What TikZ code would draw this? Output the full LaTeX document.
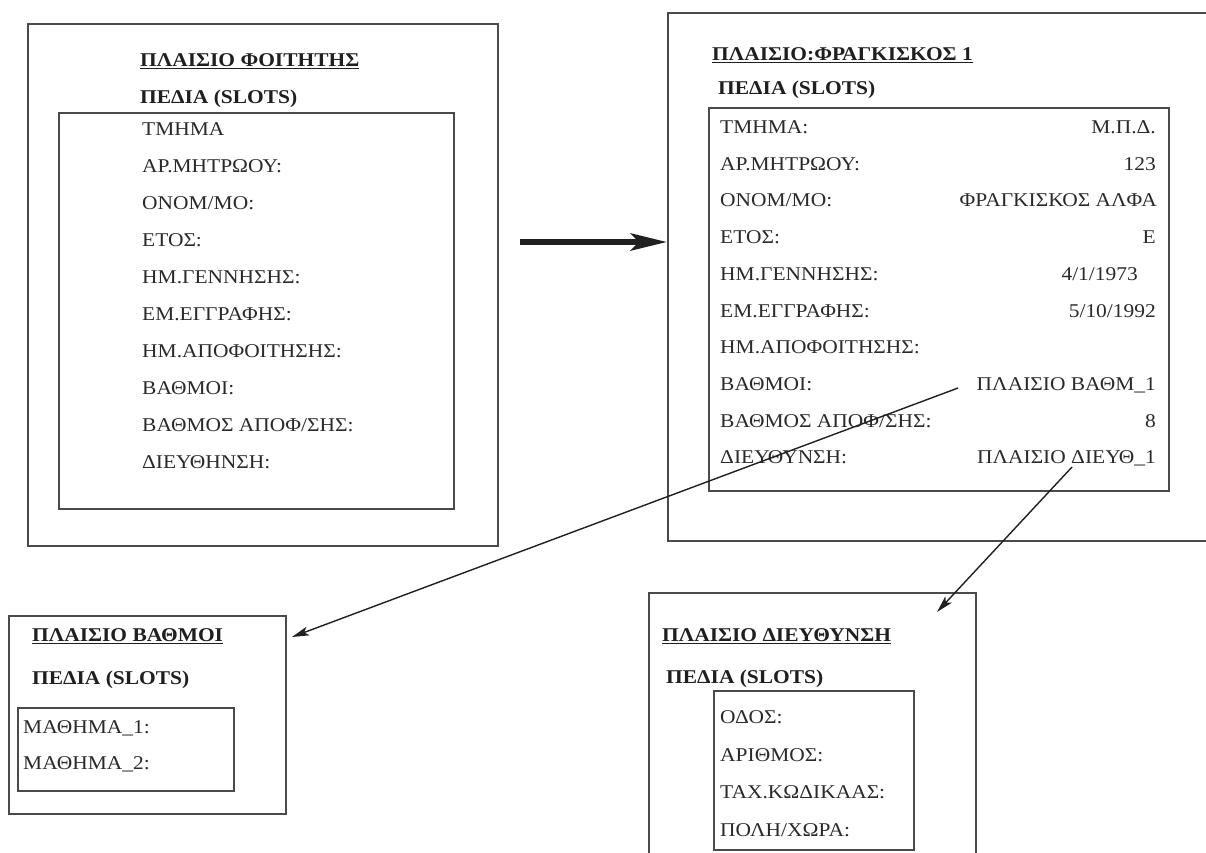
\documentclass[tikz,border=0pt]{standalone}
\usepackage{fontspec}
\setmainfont{Liberation Serif}[FakeStretch=1.1]
\usetikzlibrary{arrows.meta}
\definecolor{ink}{HTML}{2A2A2A}
\definecolor{rulegray}{HTML}{4A4A4A}
\definecolor{arrowink}{HTML}{202020}
\begin{document}
\begin{tikzpicture}[x=1pt,y=-1pt,
  frame/.style={draw=rulegray, line width=2.2pt, inner sep=0pt, anchor=north west},
  field/.style={anchor=base west, inner sep=0pt, text=ink, font=\fontsize{19.5}{22}\selectfont},
  value/.style={anchor=base east, inner sep=0pt, text=ink, font=\fontsize{19.5}{22}\selectfont},
  frametitle/.style={anchor=base west, inner sep=0pt, text=black!88, font=\fontsize{19.5}{22}\selectfont\bfseries},
  link/.style={draw=arrowink, line width=1.4pt, -{Stealth[length=17pt,width=9pt,inset=4pt]}},
  bigarrow/.style={draw=arrowink, line width=6pt, -{Stealth[length=36pt,width=17pt,inset=8pt]}}]

\fill[white] (0,0) rectangle (1206,852);
\useasboundingbox (0,0) rectangle (1206,852);

% ---------- generic student frame ----------
\node[frame, minimum width=470pt, minimum height=522pt] (studentframe) at (27,23) {};
\node[frame, minimum width=395pt, minimum height=396pt] (studentslots) at (58,112) {};
\node[frametitle] (studenttitle) at (140,66.5) {\underline{ΠΛΑΙΣΙΟ ΦΟΙΤΗΤΗΣ}};
\node[frametitle] (studentslotlabel) at (140,103.5) {ΠΕΔΙΑ (SLOTS)};
\foreach \txt [count=\i from 0] in {ΤΜΗΜΑ, ΑΡ.ΜΗΤΡΩΟΥ:, ΟΝΟΜ/ΜΟ:, ΕΤΟΣ:, ΗΜ.ΓΕΝΝΗΣΗΣ:, ΕΜ.ΕΓΓΡΑΦΗΣ:, ΗΜ.ΑΠΟΦΟΙΤΗΣΗΣ:, ΒΑΘΜΟΙ:, ΒΑΘΜΟΣ ΑΠΟΦ/ΣΗΣ:, ΔΙΕΥΘΗΝΣΗ:}
  \node[field] (sf\i) at (142,135.5+37*\i) {\txt};

% ---------- instance frame ----------
\node[frame, minimum width=540pt, minimum height=528pt] (instframe) at (667,12) {};
\node[frame, minimum width=460pt, minimum height=383pt] (instslots) at (708,107) {};
\node[frametitle] (insttitle) at (712,60.5) {\underline{ΠΛΑΙΣΙΟ:ΦΡΑΓΚΙΣΚΟΣ 1}};
\node[frametitle] (instslotlabel) at (718,94.5) {ΠΕΔΙΑ (SLOTS)};
\foreach \txt [count=\i from 0] in {ΤΜΗΜΑ:, ΑΡ.ΜΗΤΡΩΟΥ:, ΟΝΟΜ/ΜΟ:, ΕΤΟΣ:, ΗΜ.ΓΕΝΝΗΣΗΣ:, ΕΜ.ΕΓΓΡΑΦΗΣ:, ΗΜ.ΑΠΟΦΟΙΤΗΣΗΣ:, ΒΑΘΜΟΙ:, ΒΑΘΜΟΣ ΑΠΟΦ/ΣΗΣ:, ΔΙΕΥΘΥΝΣΗ:}
  \node[field] (if\i) at (720,133.5+36.7*\i) {\txt};
\node[value] (iv0) at (1156,133.5) {Μ.Π.Δ.};
\node[value] (iv1) at (1156,170.2) {123};
\node[value] (iv2) at (1157,206.9) {ΦΡΑΓΚΙΣΚΟΣ ΑΛΦΑ};
\node[value] (iv3) at (1156,243.6) {Ε};
\node[value] (iv4) at (1138,280.3) {4/1/1973};
\node[value] (iv5) at (1156,317.0) {5/10/1992};
\node[value] (iv7) at (1156,390.4) {ΠΛΑΙΣΙΟ ΒΑΘΜ\_1};
\node[value] (iv8) at (1156,427.1) {8};
\node[value] (iv9) at (1156,463.8) {ΠΛΑΙΣΙΟ ΔΙΕΥΘ\_1};

% ---------- grades frame ----------
\node[frame, minimum width=277pt, minimum height=198pt] (gradeframe) at (8,615) {};
\node[frame, minimum width=216pt, minimum height=83pt] (gradeslots) at (17,707) {};
\node[frametitle] (gradetitle) at (32,641.5) {\underline{ΠΛΑΙΣΙΟ ΒΑΘΜΟΙ}};
\node[frametitle] (gradeslotlabel) at (32,684.5) {ΠΕΔΙΑ (SLOTS)};
\node[field] (gf0) at (23,733.5) {ΜΑΘΗΜΑ\_1:};
\node[field] (gf1) at (23,769.5) {ΜΑΘΗΜΑ\_2:};

% ---------- address frame ----------
\node[frame, minimum width=327pt, minimum height=270pt] (addrframe) at (648,592) {};
\node[frame, minimum width=200pt, minimum height=159pt] (addrslots) at (713,690) {};
\node[frametitle] (addrtitle) at (662,641.5) {\underline{ΠΛΑΙΣΙΟ ΔΙΕΥΘΥΝΣΗ}};
\node[frametitle] (addrslotlabel) at (666,683.5) {ΠΕΔΙΑ (SLOTS)};
\foreach \txt [count=\i from 0] in {ΟΔΟΣ:, ΑΡΙΘΜΟΣ:, ΤΑΧ.ΚΩΔΙΚΑΑΣ:, ΠΟΛΗ/ΧΩΡΑ:}
  \node[field] (af\i) at (720,723.5+37.5*\i) {\txt};

% ---------- connectors ----------
\coordinate (instantiate) at (520,242);
\draw[bigarrow] (instantiate) -- (instframe.west |- instantiate);

\coordinate (gradeslotref) at (958,388);
\coordinate (gradeentry) at (292,637);
\draw[link] (gradeslotref) -- (gradeentry);

\coordinate (addrslotref) at (1072,467);
\coordinate (addrentry) at (937,612);
\draw[link] (addrslotref) -- (addrentry);
\end{tikzpicture}
\end{document}
